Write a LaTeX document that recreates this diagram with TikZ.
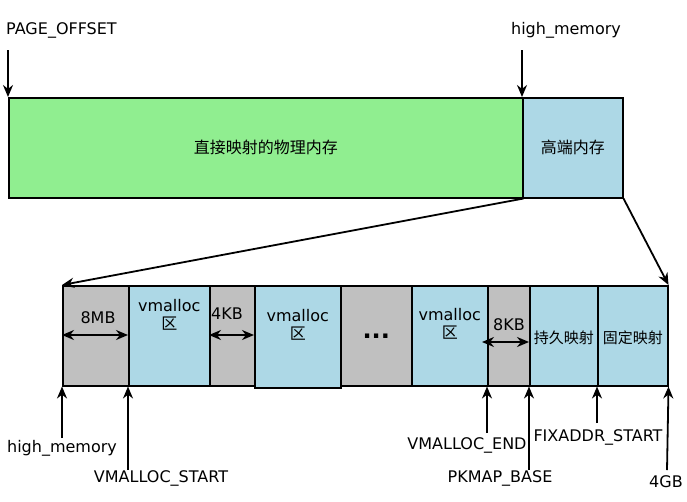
\documentclass[tikz,border=0pt]{standalone}
\usepackage{fontspec}
\setmainfont{DejaVu Sans}
\newfontfamily\cjk{Noto Sans CJK SC}
\usetikzlibrary{arrows.meta}
\definecolor{mgreen}{HTML}{90EE90}
\definecolor{mblue}{HTML}{ADD8E6}
\definecolor{mgray}{HTML}{C0C0C0}
\begin{document}
\begin{tikzpicture}[x=1pt,y=-1pt,
  seg/.style={draw=black,line width=1.5pt,minimum height=100pt,inner sep=0pt,anchor=north west,font=\fontsize{16}{18}\selectfont},
  lbl/.style={font=\fontsize{16}{18}\selectfont,inner sep=1pt},
  arr/.style={line width=1.8pt,-{Stealth[length=12pt,width=10pt]}},
  dbl/.style={line width=1.8pt,{Stealth[length=12pt,width=10pt]}-{Stealth[length=12pt,width=10pt]}}]
\useasboundingbox (0,0) rectangle (687,501);
\fill[white] (0,0) rectangle (687,501);
% top
\node[seg,fill=mgreen,minimum width=514pt] (g) at (8,97) {\cjk 直接映射的物理内存};
\node[seg,fill=mblue,minimum width=100pt] (h) at (522,97) {\cjk 高端内存};
\node[lbl,anchor=west] (po) at (5,30) {PAGE\_OFFSET};
\node[lbl] (hm) at (566,30) {high\_memory};
\coordinate (po1) at (8,50); \coordinate (hm1) at (522,50);
\draw[arr] (po1) -- (g.north west);
\draw[arr] (hm1) -- (h.north west);
% bottom
\node[seg,fill=mgray,minimum width=66pt] (s1) at (62,285) {};
\node[seg,fill=mblue,minimum width=81pt,align=center] (s2) at (128,285) {vmalloc\\{\cjk 区}\\[24pt]};
\node[seg,fill=mgray,minimum width=45pt] (s3) at (209,285) {};
\node[seg,fill=mblue,minimum width=86pt,minimum height=102pt,align=center] (s4) at (254,285) {vmalloc\\{\cjk 区}\\[6pt]};
\node[seg,fill=mgray,minimum width=71pt,font=\bfseries\fontsize{24}{26}\selectfont] (s5) at (340,285) {...};
\node[seg,fill=mblue,minimum width=76pt,align=center] (s6) at (411,285) {vmalloc\\{\cjk 区}\\[6pt]};
\node[seg,fill=mgray,minimum width=42pt] (s7) at (487,285) {};
\node[seg,fill=mblue,minimum width=68pt,font=\fontsize{15}{17}\selectfont] (s8) at (529,285) {\cjk 持久映射\rule{0pt}{16pt}};
\node[seg,fill=mblue,minimum width=70pt,font=\fontsize{15}{17}\selectfont] (s9) at (597,285) {\cjk 固定映射\rule{0pt}{16pt}};
\draw[arr] (g.south east) -- (s1.north west);
\draw[arr] (h.south east) -- (s9.north east);
% sizes
\coordinate (a1) at (62,335); \coordinate (a2) at (128,335);
\draw[dbl] (a1) -- (a2); \node[lbl] (t1) at (98,318) {8MB};
\coordinate (b1) at (209,335); \coordinate (b2) at (254,335);
\draw[dbl] (b1) -- (b2); \node[lbl] (t2) at (227,314) {4KB};
\coordinate (c1) at (482,342); \coordinate (c2) at (529,342);
\draw[dbl] (c1) -- (c2); \node[lbl] (t3) at (509,325) {8KB};
% bottom labels
\node[lbl] (l1) at (62,448) {high\_memory};
\node[lbl] (l2) at (161,478) {VMALLOC\_START};
\node[lbl] (l3) at (467,445) {VMALLOC\_END};
\node[lbl] (l4) at (500,478) {PKMAP\_BASE};
\node[lbl] (l5) at (598,437) {FIXADDR\_START};
\node[lbl] (l6) at (666,482) {4GB};
\coordinate (p1) at (62,438); \coordinate (p2) at (128,470);
\coordinate (p3) at (487,433); \coordinate (p4) at (529,470);
\coordinate (p5) at (597,423); \coordinate (p6) at (667,470);
\draw[arr] (p1) -- (s1.south west);
\draw[arr] (p2) -- (s2.south west);
\draw[arr] (p3) -- (s7.south west);
\draw[arr] (p4) -- (s8.south west);
\draw[arr] (p5) -- (s9.south west);
\draw[arr] (p6) -- (s9.south east);
\end{tikzpicture}
\end{document}
